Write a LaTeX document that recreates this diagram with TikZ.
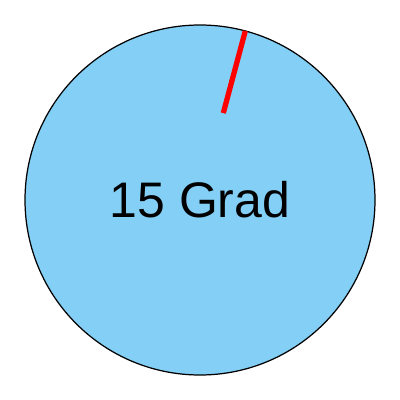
\documentclass[tikz,border=0pt]{standalone}
\usepackage{fontspec}
\setmainfont{Liberation Sans}
\usetikzlibrary{calc}
\definecolor{dialblue}{RGB}{131,207,245}

\begin{document}
\begin{tikzpicture}[x=0.01cm,y=-0.01cm]
              \useasboundingbox (0,0) rectangle (400,400);
              \coordinate (centre) at (200,200);
              \filldraw[fill=dialblue,draw=black,line width=0.35pt] (centre) circle (175);
              \coordinate (inner) at ($(centre)+(-75:90)$);
              \coordinate (outer) at ($(centre)+(-75:175)$);
              \draw[red,line width=1.5pt] (inner) -- (outer);
              \node[font=\fontsize{14.2}{17}\selectfont] (label) at (200,200) {15 Grad};
            \end{tikzpicture}
\end{document}
